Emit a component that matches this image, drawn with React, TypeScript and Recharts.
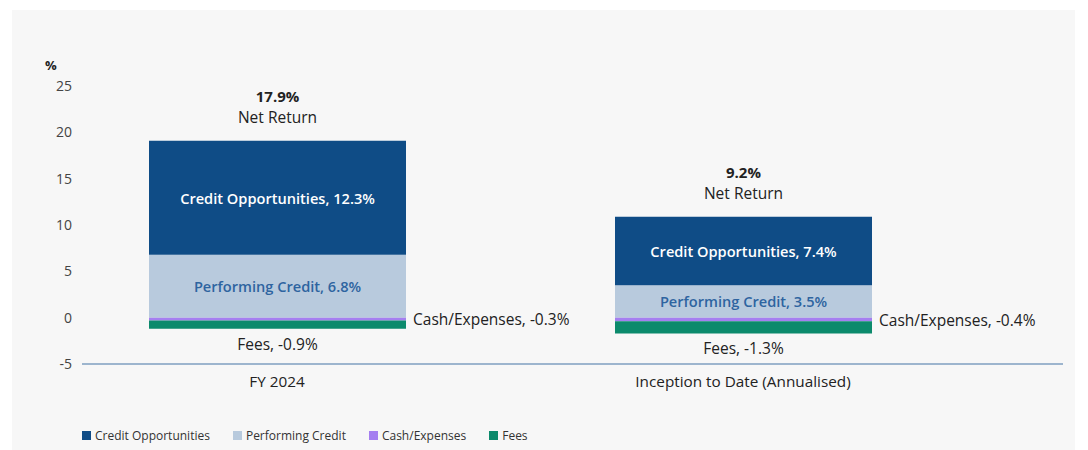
import React from "react";
import { Bar, BarChart, LabelList, ReferenceLine, XAxis, YAxis } from "recharts";

const categories = ["FY 2024", "Inception to Date (Annualised)"];
const creditOpportunities = [12.3, 7.4];
const performingCredit = [6.8, 3.5];
const cashExpenses = [-0.3, -0.4];
const fees = [-0.9, -1.3];
const netReturn = [17.9, 9.2];
const yTicks = [-5, 0, 5, 10, 15, 20, 25];

const colors = {
  creditOpportunities: "#0f4c86",
  performingCredit: "#b8cadd",
  cashExpenses: "#a57ff0",
  fees: "#0c8a6c",
};

const legendItems = [
  { name: "Credit Opportunities", color: colors.creditOpportunities },
  { name: "Performing Credit", color: colors.performingCredit },
  { name: "Cash/Expenses", color: colors.cashExpenses },
  { name: "Fees", color: colors.fees },
];

const font = "'Open Sans', Lato, sans-serif";

const data = categories.map((name, i) => ({
  name,
  creditOpportunities: creditOpportunities[i],
  performingCredit: performingCredit[i],
  cashExpenses: cashExpenses[i],
  fees: fees[i],
  netReturn: netReturn[i],
}));

const fmt = (v: number) => `${v.toFixed(1)}%`;

const InsideLabel = (prefix: string, color: string) => (props: any) => {
  const { x, y, width, height, value } = props;
  return (
    <text
      x={x + width / 2}
      y={y + height / 2}
      textAnchor="middle"
      dominantBaseline="central"
      fill={color}
      fontSize={14.6}
      fontWeight={600}
      fontFamily={font}
    >
      {`${prefix}, ${fmt(value)}`}
    </text>
  );
};

const NetReturnLabel = (props: any) => {
  const { x, y, width, index } = props;
  const cx = x + width / 2;
  return (
    <g fontFamily={font} fill="#222" textAnchor="middle">
      <text x={cx} y={y - 45} dominantBaseline="central" fontSize={15} fontWeight={700}>
        {fmt(netReturn[index])}
      </text>
      <text x={cx} y={y - 24} dominantBaseline="central" fontSize={15.5}>
        Net Return
      </text>
    </g>
  );
};

const CashLabel = (props: any) => {
  const { x, y, width, height, value } = props;
  return (
    <text
      x={x + width + 7}
      y={y + height / 2}
      dominantBaseline="central"
      fill="#222"
      fontSize={15.5}
      fontFamily={font}
    >
      {`Cash/Expenses, ${fmt(value)}`}
    </text>
  );
};

const FeesLabel = (props: any) => {
  const { x, y, width, height, value } = props;
  const bottom = Math.max(y, y + height);
  return (
    <text
      x={x + width / 2}
      y={bottom + 15}
      textAnchor="middle"
      dominantBaseline="central"
      fill="#222"
      fontSize={15.5}
      fontFamily={font}
    >
      {`Fees, ${fmt(value)}`}
    </text>
  );
};

export default function App() {
  return (
    <div
      style={{
        position: "absolute",
        left: 0,
        top: 0,
        width: 1088,
        height: 450,
        background: "#ffffff",
        overflow: "hidden",
      }}
    >
      <div
        style={{
          position: "absolute",
          left: 12,
          top: 10,
          width: 1063,
          height: 440,
          background: "#f7f7f7",
        }}
      />
      <div
        style={{
          position: "absolute",
          left: 45,
          top: 56,
          fontFamily: font,
          fontWeight: 700,
          fontSize: 13,
          color: "#222",
        }}
      >
        %
      </div>
      <div style={{ position: "absolute", left: 0, top: 0 }}>
        <BarChart
          width={1088}
          height={450}
          data={data}
          stackOffset="sign"
          margin={{ top: 86, right: 25, left: 32, bottom: 56 }}
        >
          <XAxis
            dataKey="name"
            axisLine={false}
            tickLine={false}
            tickSize={0}
            tickMargin={12}
            height={30}
            padding={{ left: -38, right: 87 }}
            tick={{ fill: "#222", fontSize: 15.3, fontFamily: font }}
          />
          <YAxis
            domain={[-5, 25]}
            ticks={yTicks}
            width={50}
            axisLine={false}
            tickLine={false}
            tickSize={0}
            tickMargin={10}
            tick={{ fill: "#444", fontSize: 14, fontFamily: font }}
          />
          <ReferenceLine y={-5} stroke="#7f9fc0" strokeWidth={1.5} />
          <Bar
            dataKey="performingCredit"
            stackId="a"
            fill={colors.performingCredit}
            barSize={257}
            isAnimationActive={false}
          >
            <LabelList
              dataKey="performingCredit"
              content={InsideLabel("Performing Credit", "#2e64a0")}
            />
          </Bar>
          <Bar
            dataKey="creditOpportunities"
            stackId="a"
            fill={colors.creditOpportunities}
            barSize={257}
            isAnimationActive={false}
          >
            <LabelList
              dataKey="creditOpportunities"
              content={InsideLabel("Credit Opportunities", "#ffffff")}
            />
            <LabelList dataKey="creditOpportunities" content={NetReturnLabel} />
          </Bar>
          <Bar
            dataKey="cashExpenses"
            stackId="a"
            fill={colors.cashExpenses}
            barSize={257}
            isAnimationActive={false}
          >
            <LabelList dataKey="cashExpenses" content={CashLabel} />
          </Bar>
          <Bar
            dataKey="fees"
            stackId="a"
            fill={colors.fees}
            barSize={257}
            isAnimationActive={false}
          >
            <LabelList dataKey="fees" content={FeesLabel} />
          </Bar>
        </BarChart>
      </div>
      <div
        style={{
          position: "absolute",
          left: 82,
          top: 427,
          display: "flex",
          alignItems: "center",
          fontFamily: font,
          fontSize: 12,
          color: "#333",
        }}
      >
        {legendItems.map((item) => (
          <div
            key={item.name}
            style={{ display: "flex", alignItems: "center", marginRight: 23 }}
          >
            <span
              style={{
                display: "inline-block",
                width: 9,
                height: 9,
                background: item.color,
                marginRight: 4,
              }}
            />
            <span>{item.name}</span>
          </div>
        ))}
      </div>
    </div>
  );
}
